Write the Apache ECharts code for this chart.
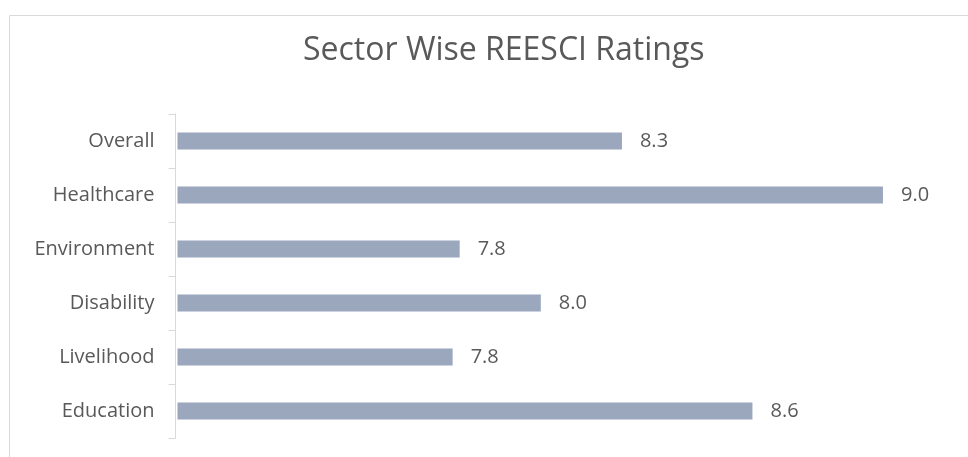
<!DOCTYPE html>
<html>
<head>
<meta charset="utf-8">
<script src="https://cdn.jsdelivr.net/npm/echarts@6/dist/echarts.min.js"></script>
<style>
  html, body { margin: 0; padding: 0; background: #fff; }
  #chart { width: 968px; height: 457px; }
</style>
</head>
<body>
<div id="chart"></div>
<script>
// sectors, top to bottom as shown
const sectors = ['Overall', 'Healthcare', 'Environment', 'Disability', 'Livelihood', 'Education'];
const ratings = [8.26, 9.0, 7.8, 8.03, 7.78, 8.63];

const chart = echarts.init(document.getElementById('chart'));
chart.setOption({
    animation: false,
    textStyle: { fontFamily: 'Open Sans' },
    title: {
        text: 'Sector Wise REESCI Ratings',
        left: 298,
        top: 30,
        textStyle: { fontSize: 32, fontWeight: 'normal', color: '#595959', fontFamily: 'Open Sans' }
    },
    graphic: [{
        type: 'rect',
        shape: { x: 9.5, y: 15.5, width: 980, height: 480 },
        style: { fill: 'none', stroke: '#d9d9d9', lineWidth: 1 },
        silent: true
    }],
    grid: { left: 177.5, right: 14.5, top: 114, bottom: 19 },
    xAxis: {
        type: 'value',
        min: 7,
        max: 9.2,
        show: false
    },
    yAxis: {
        type: 'category',
        inverse: true,
        data: sectors,
        offset: 2,
        axisLine: { show: true, lineStyle: { color: '#d9d9d9', width: 1 } },
        axisTick: { show: true, length: 7, alignWithLabel: false, lineStyle: { color: '#d9d9d9' } },
        axisLabel: { color: '#595959', fontSize: 20, margin: 21 }
    },
    series: [{
        type: 'bar',
        data: ratings,
        barWidth: 17,
        itemStyle: { color: '#9aa7bd' },
        label: {
            show: true,
            position: 'right',
            distance: 18,
            color: '#595959',
            fontSize: 20,
            formatter: p => p.value.toFixed(1)
        }
    }]
});
</script>
</body>
</html>
